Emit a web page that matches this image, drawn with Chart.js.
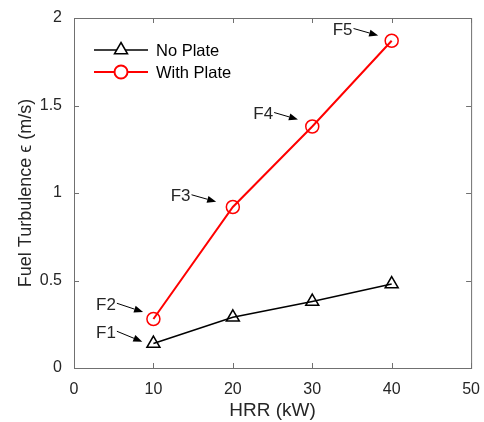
<!DOCTYPE html>
<html>
<head>
<meta charset="UTF-8">
<title>Fuel Turbulence vs HRR</title>
<script src="https://cdn.jsdelivr.net/npm/chart.js"></script>
<style>
  body { margin:0; background:#fff }
  #wrap { width:484px; height:422px }
</style>
</head>
<body>
<div id="wrap"><canvas id="c" width="484" height="422"></canvas></div>
<script>
// data
const hrr = [10, 20, 30, 40];
const noPlate = [0.14, 0.29, 0.38, 0.48];
const withPlate = [0.28, 0.92, 1.38, 1.87];
const xTicks = [0, 10, 20, 30, 40, 50];
const yTicks = [0, 0.5, 1, 1.5, 2];

// F labels: text + arrow tail/tip in data units
const noteLabels = ["F1", "F2", "F3", "F4", "F5"];
const noteTail = [[5.4, 0.21], [5.4, 0.37], [14.8, 0.99], [25.2, 1.46], [35.2, 1.94]];
const noteTip = [[8.6, 0.15], [8.7, 0.32], [17.9, 0.95], [28.2, 1.42], [38.3, 1.90]];

const FONT = "'Liberation Sans', Arial, sans-serif";
const INK = "#262626";

// frame, inward ticks, arrows, legend
const decor = {
  id: "decor",
  afterDraw(chart) {
    const ctx = chart.ctx, a = chart.chartArea;
    const xs = chart.scales.x, ys = chart.scales.y;
    ctx.save();
    ctx.strokeStyle = "#707070";
    ctx.lineWidth = 1;
    ctx.strokeRect(a.left + 0.5, a.top + 0.5, a.right - a.left, a.bottom - a.top);
    const tl = 5;
    ctx.beginPath();
    xTicks.forEach(v => {
      const x = Math.round(xs.getPixelForValue(v)) + 0.5;
      ctx.moveTo(x, a.bottom); ctx.lineTo(x, a.bottom - tl);
      ctx.moveTo(x, a.top); ctx.lineTo(x, a.top + tl);
    });
    yTicks.forEach(v => {
      const y = Math.round(ys.getPixelForValue(v)) + 0.5;
      ctx.moveTo(a.left, y); ctx.lineTo(a.left + tl, y);
      ctx.moveTo(a.right, y); ctx.lineTo(a.right - tl, y);
    });
    ctx.stroke();

    // annotations
    ctx.font = "17px " + FONT;
    ctx.textAlign = "right";
    ctx.textBaseline = "middle";
    noteLabels.forEach((t, i) => {
      const x0 = xs.getPixelForValue(noteTail[i][0]), y0 = ys.getPixelForValue(noteTail[i][1]);
      const x1 = xs.getPixelForValue(noteTip[i][0]), y1 = ys.getPixelForValue(noteTip[i][1]);
      ctx.fillStyle = INK;
      ctx.fillText(t, x0 - 1, y0 + 2);
      const ang = Math.atan2(y1 - y0, x1 - x0);
      const hl = 9, hw = 3.5;
      const bx = x1 - hl * Math.cos(ang), by = y1 - hl * Math.sin(ang);
      ctx.strokeStyle = "#000";
      ctx.lineWidth = 1;
      ctx.beginPath(); ctx.moveTo(x0, y0); ctx.lineTo(bx, by); ctx.stroke();
      ctx.fillStyle = "#000";
      ctx.beginPath();
      ctx.moveTo(x1, y1);
      ctx.lineTo(bx + hw * Math.sin(ang), by - hw * Math.cos(ang));
      ctx.lineTo(bx - hw * Math.sin(ang), by + hw * Math.cos(ang));
      ctx.closePath(); ctx.fill();
    });

    // legend
    const items = chart.data.datasets;
    const lx = a.left + 20, ly = a.top + 32;
    items.forEach((ds, i) => {
      const y = ly + i * 22;
      ctx.strokeStyle = ds.borderColor;
      ctx.lineWidth = ds.borderWidth;
      ctx.beginPath(); ctx.moveTo(lx, y); ctx.lineTo(lx + 54, y); ctx.stroke();
      const cx = lx + 27;
      ctx.beginPath();
      if (ds.pointStyle === "triangle") {
        const r = ds.pointRadius;
        ctx.moveTo(cx, y - r); ctx.lineTo(cx + r * 0.87, y + r * 0.5); ctx.lineTo(cx - r * 0.87, y + r * 0.5); ctx.closePath();
      } else {
        ctx.arc(cx, y, ds.pointRadius, 0, Math.PI * 2);
      }
      ctx.fillStyle = "#fff"; ctx.fill();
      ctx.stroke();
      ctx.fillStyle = "#000";
      ctx.textAlign = "left";
      ctx.font = "16.5px " + FONT;
      ctx.fillText(ds.label, lx + 62, y + 1);
    });
    ctx.restore();
  }
};

new Chart(document.getElementById("c"), {
  type: "line",
  data: {
    datasets: [
      {
        label: "No Plate",
        data: hrr.map((x, i) => ({ x, y: noPlate[i] })),
        borderColor: "#000", borderWidth: 1.5,
        pointStyle: "triangle", pointRadius: 7.5,
        pointBorderColor: "#000", pointBackgroundColor: "rgba(0,0,0,0)", pointBorderWidth: 1.5
      },
      {
        label: "With Plate",
        data: hrr.map((x, i) => ({ x, y: withPlate[i] })),
        borderColor: "#ff0000", borderWidth: 2,
        pointStyle: "circle", pointRadius: 6.5,
        pointBorderColor: "#ff0000", pointBackgroundColor: "rgba(0,0,0,0)", pointBorderWidth: 1.5
      }
    ]
  },
  options: {
    responsive: false,
    animation: false,
    layout: { padding: { left: 0, right: 4, top: 18, bottom: 0 } },
    plugins: { legend: { display: false }, tooltip: { enabled: false } },
    scales: {
      x: {
        type: "linear", min: 0, max: 50,
        afterBuildTicks: s => { s.ticks = xTicks.map(v => ({ value: v })); },
        afterFit: s => { s.height = 54; },
        grid: { display: false },
        border: { display: false },
        ticks: { color: INK, font: { size: 16, family: FONT }, padding: 4 },
        title: { display: true, text: "HRR (kW)", color: INK, font: { size: 19, family: FONT }, padding: { top: 0, bottom: 0 } }
      },
      y: {
        type: "linear", min: 0, max: 2,
        afterBuildTicks: s => { s.ticks = yTicks.map(v => ({ value: v })); },
        afterFit: s => { s.width = 74; },
        grid: { display: false },
        border: { display: false },
        ticks: { color: INK, font: { size: 16, family: FONT }, padding: 4, callback: v => String(v) },
        title: { display: true, text: "Fuel Turbulence ϵ (m/s)", color: INK, font: { size: 18, family: FONT }, padding: { top: 15, bottom: 0 } }
      }
    }
  },
  plugins: [decor]
});
</script>
</body>
</html>
